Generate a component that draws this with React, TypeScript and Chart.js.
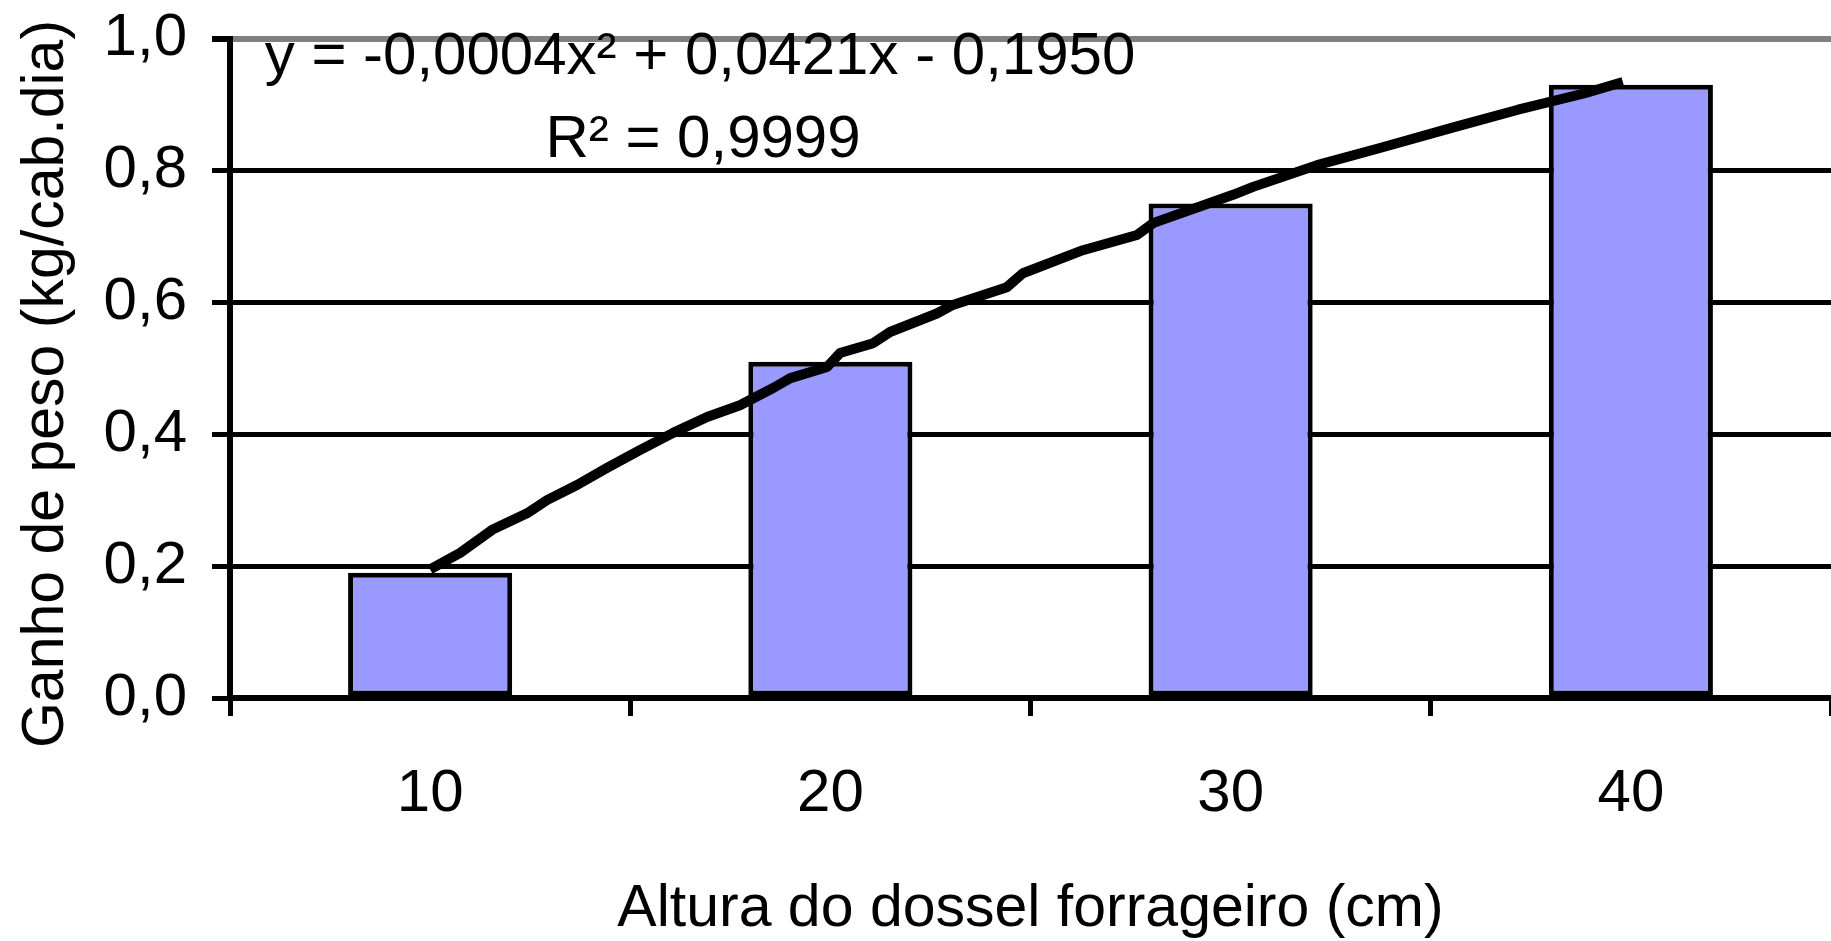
import React, { useEffect, useRef } from "react";
import { Chart, registerables } from "chart.js";

Chart.register(...registerables);

const categories = ["10", "20", "30", "40"];
const barValues = [0.19, 0.51, 0.75, 0.93];
const yTickLabels = ["0,0", "0,2", "0,4", "0,6", "0,8", "1,0"];
const trendX = [
  10.0, 10.75, 11.55, 12.42, 12.92, 13.67, 14.42, 15.24, 16.07, 16.92, 17.74,
  18.57, 19.0, 19.92, 20.24, 21.07, 21.49, 22.66, 23.06, 24.41, 24.81, 26.31,
  27.66, 28.06, 30.06, 30.56, 32.16, 33.73, 35.61, 37.18, 38.85, 39.8,
];
const trendY = [
  0.195, 0.22, 0.255, 0.28, 0.3, 0.323, 0.349, 0.376, 0.402, 0.426, 0.444,
  0.47, 0.485, 0.502, 0.523, 0.538, 0.555, 0.583, 0.596, 0.623, 0.644, 0.679,
  0.702, 0.72, 0.763, 0.775, 0.808, 0.834, 0.866, 0.892, 0.917, 0.934,
];
const equationLine1 = "y = -0,0004x² + 0,0421x - 0,1950";
const equationLine2 = "R² = 0,9999";
const xTitle = "Altura do dossel forrageiro (cm)";
const yTitle = "Ganho de peso (kg/cab.dia)";

const FONT = '"Liberation Sans", Arial, sans-serif';
const W = 1831;
const H = 941;

const textPlugin = {
  id: "extraText",
  afterDatasetsDraw(chart: any) {
    const ctx = chart.ctx;
    ctx.save();
    ctx.fillStyle = "#000";
    ctx.font = `60px ${FONT}`;
    ctx.textAlign = "center";
    ctx.textBaseline = "middle";
    ctx.fillText(equationLine1, 700, 57);
    ctx.fillText(equationLine2, 703, 140);
    ctx.restore();
  },
  afterDraw(chart: any) {
    const ctx = chart.ctx;
    ctx.save();
    ctx.fillStyle = "#000";
    ctx.font = `59px ${FONT}`;
    ctx.textAlign = "center";
    ctx.textBaseline = "middle";
    ctx.translate(47, 384);
    ctx.rotate(-Math.PI / 2);
    ctx.fillText(yTitle, 0, 0);
    ctx.restore();
  },
};

export default function App() {
  const ref = useRef<HTMLCanvasElement | null>(null);

  useEffect(() => {
    document.body.style.margin = "0";
    const canvas = ref.current;
    if (!canvas) return;
    Chart.defaults.font.family = FONT;
    Chart.defaults.color = "#000";

    const chart = new Chart(canvas, {
      type: "bar",
      data: {
        labels: categories,
        datasets: [
          {
            type: "line",
            data: trendX.map((x, i) => ({ x, y: trendY[i] })),
            xAxisID: "x2",
            borderColor: "#000",
            borderWidth: 10,
            pointRadius: 0,
            tension: 0,
            borderJoinStyle: "round",
            order: 0,
          } as any,
          {
            type: "bar",
            data: barValues,
            backgroundColor: "#9999FF",
            borderColor: "#000",
            borderWidth: 5,
            borderSkipped: false,
            grouped: false,
            barPercentage: 0.41,
            categoryPercentage: 1,
            order: 1,
          },
        ],
      },
      options: {
        animation: false,
        responsive: false,
        maintainAspectRatio: false,
        layout: { padding: { top: 38.5, right: 0, left: 0, bottom: 0 } },
        plugins: {
          legend: { display: false },
          tooltip: { enabled: false },
        },
        scales: {
          x: {
            type: "category",
            offset: true,
            grid: {
              offset: true,
              drawOnChartArea: false,
              drawTicks: true,
              tickLength: 18,
              color: "#000",
              lineWidth: 5,
            },
            border: { display: true, color: "#000", width: 6 },
            ticks: {
              font: { size: 60 },
              color: "#000",
              padding: 42,
              maxRotation: 0,
            },
            title: {
              display: true,
              text: xTitle,
              font: { size: 59 },
              color: "#000",
              padding: { top: 0, bottom: -4 },
            },
            afterFit: (s: any) => {
              s.height = H - 698;
              s.paddingLeft = 0;
              s.paddingRight = 0;
            },
          },
          x2: {
            type: "linear",
            display: false,
            offset: false,
            min: 5,
            max: 45,
          },
          y: {
            min: 0,
            max: 1,
            ticks: {
              stepSize: 0.2,
              font: { size: 60 },
              color: "#000",
              padding: 25,
              callback: (_v: any, i: number) => yTickLabels[i],
            },
            grid: {
              color: (c: any) =>
                c.tick && Math.abs(c.tick.value - 1) < 1e-6 ? "#808080" : "#000",
              lineWidth: (c: any) =>
                c.tick && Math.abs(c.tick.value - 1) < 1e-6 ? 6 : 5,
              tickColor: "#000",
              tickLength: 18,
              drawTicks: true,
            },
            border: { display: true, color: "#000", width: 6 },
            title: { display: false, text: yTitle },
            afterFit: (s: any) => {
              s.width = 230;
              s.paddingTop = 0;
              s.paddingBottom = 0;
            },
          },
        },
      },
      plugins: [textPlugin],
    });
    return () => chart.destroy();
  }, []);

  return (
    <div style={{ width: W, height: H, position: "relative" }}>
      <canvas ref={ref} width={W} height={H} style={{ width: W, height: H, display: "block" }} />
    </div>
  );
}
